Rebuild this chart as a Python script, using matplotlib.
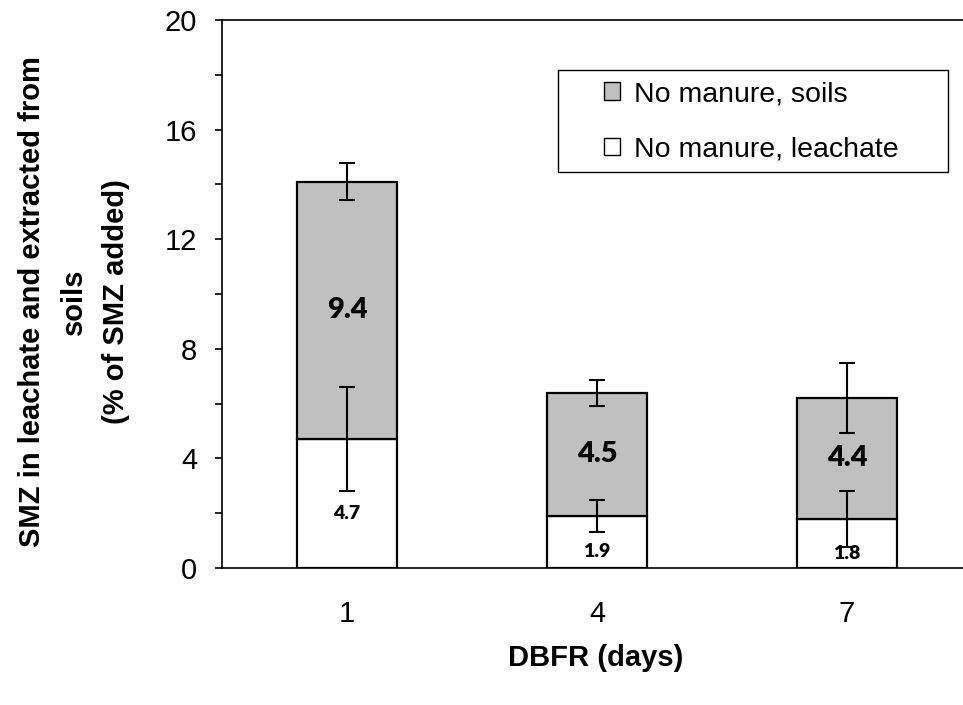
import matplotlib
matplotlib.use("Agg")
import matplotlib.pyplot as plt
from matplotlib.patches import Patch, Rectangle
import numpy as np

# ---- data ----
days = ["1", "4", "7"]
leachate = [4.7, 1.9, 1.8]
soils = [9.4, 4.5, 4.4]
leachate_err = [1.9, 0.59, 1.02]
soils_err = [0.67, 0.47, 1.27]
yticks = [0, 4, 8, 12, 16, 20]

W, H = 963, 705
fig = plt.figure(figsize=(W / 100, H / 100), dpi=100)
ax = fig.add_axes([222 / W, 1 - 568 / H, 750 / W, 548 / H])

base_font = "Liberation Sans"
lab_font = ["Lato", "DejaVu Sans"]

x = np.arange(len(days))
leach = np.array(leachate)
soil = np.array(soils)
top = leach + soil

ax.bar(x, leach, width=0.4, color="white", edgecolor="black", linewidth=1.6, zorder=2)
ax.bar(x, soil, width=0.4, bottom=leach, color="#C0C0C0", edgecolor="black",
       linewidth=1.6, zorder=2)

ax.errorbar(x, leach, yerr=leachate_err, fmt="none", ecolor="black",
            elinewidth=1.5, capsize=6, capthick=1.5, zorder=4)
ax.errorbar(x, top, yerr=soils_err, fmt="none", ecolor="black",
            elinewidth=1.5, capsize=6, capthick=1.5, zorder=4)

for xi, l, s in zip(x, leach, soil):
    ax.text(xi, l + s / 2, f"{s:.1f}", ha="center", va="center",
            fontsize=21, fontweight="heavy", family=lab_font, zorder=5)
    ax.annotate(f"{l:.1f}", (xi, l / 2), xytext=(0, -7), textcoords="offset points",
                ha="center", va="center", fontsize=14, fontweight="heavy",
                family=lab_font, zorder=5)

ax.set_xlim(-0.5, 2.5)
ax.set_ylim(0, 20)
ax.set_yticks(yticks)
ax.set_yticks(np.arange(2, 20, 4), minor=True)
ax.set_xticks(x)
ax.set_xticklabels(days)
ax.tick_params(axis="y", which="both", direction="out", length=5, width=1.2, pad=13,
               labelsize=21)
ax.tick_params(axis="x", length=0, pad=23, labelsize=21)
for lbl in ax.get_xticklabels() + ax.get_yticklabels():
    lbl.set_family(base_font)

for sp in ["left", "bottom", "top"]:
    ax.spines[sp].set_linewidth(1.2)
ax.spines["right"].set_visible(False)

# legend
handles = [Patch(facecolor="#C0C0C0", edgecolor="black", linewidth=1.0, label="No manure, soils"),
           Patch(facecolor="white", edgecolor="black", linewidth=1.0, label="No manure, leachate")]
leg = fig.legend(handles=handles, loc="center left",
                 bbox_to_anchor=(604 / W, 1 - 122 / H), frameon=False,
                 prop={"family": base_font, "size": 20.5}, handlelength=0.55,
                 handleheight=0.55, handletextpad=0.5, labelspacing=1.05,
                 borderpad=0, borderaxespad=0)
fig.patches.append(Rectangle((558 / W, 1 - 172 / H), 390 / W, 102 / H,
                             transform=fig.transFigure, facecolor="white",
                             edgecolor="black", linewidth=1.0, zorder=0))

fig.text(596 / W, 1 - 658 / H, "DBFR (days)", ha="center", va="center",
         fontsize=21, fontweight="bold", family=base_font)
fig.text(74 / W, 1 - 302 / H,
         "SMZ in leachate and extracted from\nsoils\n(% of SMZ added)",
         rotation=90, ha="center", va="center", multialignment="center",
         fontsize=21, fontweight="bold", family=base_font, linespacing=1.65)

fig.savefig("out.png", dpi=100)
